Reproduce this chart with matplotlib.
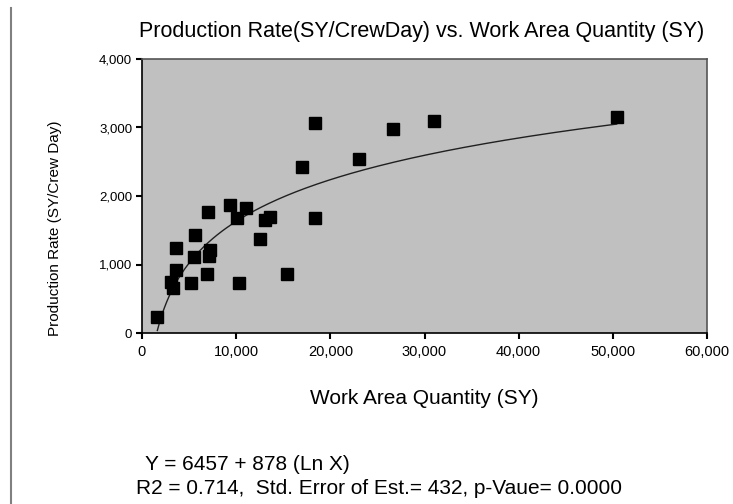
import numpy as np
import matplotlib.pyplot as plt
from matplotlib.lines import Line2D

plt.rcParams['font.family'] = ['Liberation Sans', 'DejaVu Sans']

# valores
area_sy = [1630, 3050, 3330, 3610, 3610, 5170, 5520, 5670, 6870, 6970,
           7220, 7150, 9350, 10050, 10340, 11050, 12530, 13060, 13600,
           15450, 16960, 18370, 18370, 23050, 26620, 31010, 50410]
rate_sy_day = [229, 750, 652, 920, 1237, 725, 1105, 1426, 857, 1762,
               1212, 1124, 1869, 1674, 735, 1820, 1377, 1650, 1699,
               860, 2428, 3070, 1674, 2545, 2974, 3100, 3158]

# modelo ajustado: Y = a + b ln(X)
a_fit = -6457
b_fit = 878

xticks = [0, 10000, 20000, 30000, 40000, 50000, 60000]
yticks = [0, 1000, 2000, 3000, 4000]

W, H = 733, 504
fig = plt.figure(figsize=(W / 100, H / 100), dpi=100)
ax = fig.add_axes([142 / W, 1 - 333 / H, 565 / W, 274 / H])
ax.set_facecolor('#c0c0c0')

xs = np.linspace(min(area_sy), max(area_sy), 200)
ax.plot(xs, a_fit + b_fit * np.log(xs), color='#202020', lw=1.0, zorder=2)
ax.plot(area_sy, rate_sy_day, 's', color='black', markersize=8, zorder=3)

ax.set_xlim(0, 60000)
ax.set_ylim(0, 4000)
ax.set_xticks(xticks)
ax.set_yticks(yticks)
ax.set_xticklabels(['{:,}'.format(v) for v in xticks], fontsize=10.5)
ax.set_yticklabels(['{:,}'.format(v) for v in yticks], fontsize=9.5)
ax.tick_params(direction='out', length=4, width=1.5, pad=3)
ax.tick_params(axis='x', pad=5)
for s in ax.spines.values():
    s.set_linewidth(1.2)
ax.spines['top'].set_color('#555555')
ax.spines['right'].set_color('#555555')

fig.text(422 / W, 1 - 31 / H,
         'Production Rate(SY/CrewDay) vs. Work Area Quantity (SY)',
         fontsize=15.5, ha='center', va='center')
fig.text(424 / W, 1 - 399 / H, 'Work Area Quantity (SY)',
         fontsize=15, ha='center', va='center')
fig.text(55 / W, 1 - 228 / H, 'Production Rate (SY/Crew Day)',
         fontsize=11, ha='center', va='center', rotation=90)

fig.text(145 / W, 1 - 465 / H, 'Y = 6457 + 878 (Ln X)', fontsize=15, va='center')
fig.text(136 / W, 1 - 489 / H,
         'R2 = 0.714,  Std. Error of Est.= 432, p-Vaue= 0.0000',
         fontsize=15, va='center')

# borda da página à esquerda
fig.add_artist(Line2D([11 / W, 11 / W], [0, 1 - 8 / H], color='#808080', lw=1.5))

fig.savefig('out.png', dpi=100)
